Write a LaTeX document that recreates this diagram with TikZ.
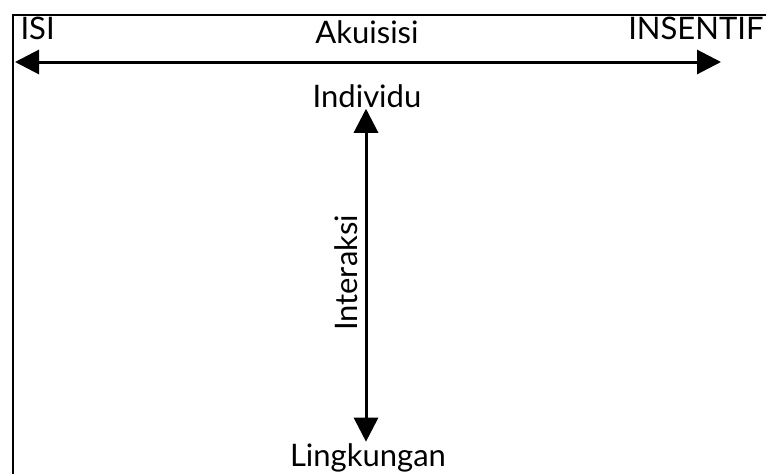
\documentclass[tikz,border=0pt]{standalone}
\usepackage{fontspec}
\setmainfont{Lato}
\usetikzlibrary{arrows.meta}
\begin{document}
\begin{tikzpicture}[x=1pt, y=-1pt, line width=3pt, text node/.style={inner sep=0pt, anchor=base, font=\fontsize{31}{31}\selectfont}]%
\useasboundingbox (0,0) rectangle (766,474);
\draw[line width=2pt] (13,474) -- (13,15) -- (766,15);
\begin{scope}[every node/.style={text node}]
\node (isi) at (19,39) [anchor=base west] {ISI};
\node (insentif) at (765,39) [anchor=base east] {INSENTIF};
\node (akuisisi) at (367,43) {Akuisisi};
\node (individu) at (367,107) {Individu};
\node (lingkungan) at (368,466) {Lingkungan};
\node (interaksi) at (357,273) [rotate=90] {Interaksi};
\coordinate (kiri) at (15,62);
\coordinate (kanan) at (721,62);
\end{scope}
\begin{scope}[>={Triangle[length=24pt,width=24pt]}]
\draw[<->] (kiri) -- (kanan);
\draw[<->] (individu.south -| 366,0) -- (lingkungan.north -| 366,0);
\end{scope}
\end{tikzpicture}
\end{document}
